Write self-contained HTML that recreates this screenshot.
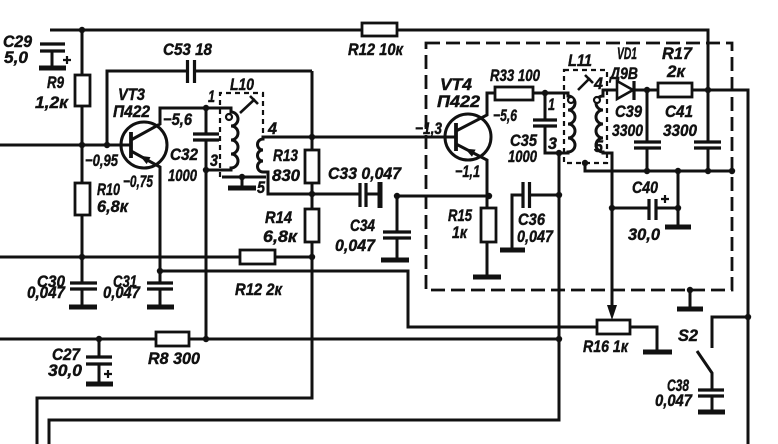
<!DOCTYPE html>
<html><head><meta charset="utf-8"><style>
html,body{margin:0;padding:0;background:#fff;}
svg{display:block;}
text{font-family:"Liberation Sans",sans-serif;font-weight:bold;font-style:italic;font-size:17px;fill:#111;stroke:#111;stroke-width:0.45;}
</style></head><body>
<svg width="778" height="444" viewBox="0 0 778 444" xmlns="http://www.w3.org/2000/svg">
<rect width="778" height="444" fill="#fff"/>
<g fill="none" stroke="#111" stroke-width="3">
<path d="M50,30 H708 V142 M708,148 V171"/>
<path d="M82,30 V257 V283 M82,289 V307"/>
<path d="M0,145 H131"/>
<path d="M107,145 V71 H187 M195,71 H312"/>
<circle cx="144" cy="145" r="23"/>
<path d="M131,140 L160,124 V108 H231 V112 A7 7 0 0 1 231,126 A7 7 0 0 1 231,140 A7 7 0 0 1 231,154 A7 7 0 0 1 231,168 V170 H206"/>
<path d="M131,151 L160,167 V271 H408 V327 H597 M630,327 H657 V352"/>
<path d="M206,108 V134 M206,140 V339"/>
<path d="M456,137 H263 V139 A5.5 5.5 0 0 0 263,150 A5.5 5.5 0 0 0 263,161 A5.5 5.5 0 0 0 263,172 H268 V194 H360"/>
<path d="M222,177 H266 M242,177 V188"/>
<path d="M312,71 V398 H37 V444"/>
<path d="M366,194 H380"/>
<path d="M0,257 H312"/>
<path d="M160,271 V283 M160,289 V307"/>
<path d="M0,339 H559 M99,339 V357 M99,364 V384"/>
<path d="M49,444 V420 H559 V153"/>
<circle cx="468" cy="137" r="23"/>
<path d="M456,131 L487,115 V93 H568 V96 A7 7 0 0 1 568,110 A7 7 0 0 1 568,124 A7 7 0 0 1 568,138 A7 7 0 0 1 568,152 V153 H545 V126 M545,120 V93"/>
<path d="M456,144 L487,160 V277"/>
<path d="M397,196 H489 M397,196 V232 M397,238 V260"/>
<path d="M559,195 H530 M523,195 H512 V250"/>
<path d="M617,90 H603 V96 A7 7 0 0 0 603,110 A7 7 0 0 0 603,124 A7 7 0 0 0 603,138 A7 7 0 0 0 603,152 V153 H612 V306"/>
<path d="M617,81 L633,90 L617,99 Z" stroke-width="2.6" fill="#fff"/>
<path d="M634,90 H748 V444"/>
<path d="M647,90 V142 M647,148 V171"/>
<path d="M585,163 V171 H732"/>
<path d="M612,208 H649 M656,208 H678 M678,171 V227"/>
<path d="M748,317 H712 V348 M697,351 L712,373 V390 M712,396 V412"/>
<path d="M690,290 V309"/>
<path d="M52,51 V67"/>
</g>
<g fill="#fff" stroke="#111" stroke-width="2.8">
<rect x="362" y="23" width="35" height="13"/>
<rect x="75" y="75" width="15" height="31"/>
<rect x="75" y="183" width="15" height="32"/>
<rect x="305" y="150" width="14" height="33"/>
<rect x="305" y="209" width="14" height="33"/>
<rect x="240" y="250" width="35" height="14"/>
<rect x="156" y="332" width="33" height="14"/>
<rect x="495" y="87" width="38" height="13"/>
<rect x="481" y="208" width="15" height="34"/>
<rect x="658" y="83" width="34" height="14"/>
<rect x="597" y="320" width="33" height="14"/>
</g>
<g stroke="#111" stroke-width="3.2" fill="none">
<path d="M40,44 H65 M40,51 H65"/>
<path d="M187.5,60 V83 M194.5,60 V83"/>
<path d="M193,134 H219 M193,140 H219"/>
<path d="M360,183 V207 M366,183 V207"/>
<path d="M70,283 H97 M70,289 H97"/>
<path d="M147,283 H173 M147,289 H173"/>
<path d="M86,357 H112 M86,364 H112"/>
<path d="M383,232 H411 M383,238 H411"/>
<path d="M533,120 H557 M533,126 H557"/>
<path d="M523,182 V208 M529.5,182 V208"/>
<path d="M634,142 H661 M634,148 H661"/>
<path d="M694,142 H721 M694,148 H721"/>
<path d="M649,199 V220 M656,199 V220"/>
<path d="M698,390 H724 M698,396 H724"/>
<path d="M634,81 V100"/>
<path d="M131,132 V158 M456,123 V151" stroke-width="3.8"/>
</g>
<g stroke="#111" stroke-width="5" fill="none">
<path d="M39,68 H66"/>
<path d="M228,188 H256"/>
<path d="M380,182 V208"/>
<path d="M69,307 H97"/>
<path d="M147,307 H174"/>
<path d="M86,384 H113"/>
<path d="M381,260 H409"/>
<path d="M473,277 H501"/>
<path d="M500,250 H525"/>
<path d="M643,352 H672"/>
<path d="M665,227 H691"/>
<path d="M677,309 H703"/>
<path d="M698,412 H725"/>
</g>
<g stroke="#111" stroke-width="2.2">
<path d="M63,60 H71 M67,56 V64"/>
<path d="M104,374 H112 M108,370 V378"/>
<path d="M661,199 H669 M665,195 V203"/>
</g>
<g fill="none" stroke="#111">
<rect x="426" y="43" width="306" height="247" stroke-width="2.8" stroke-dasharray="14 6"/>
<rect x="564" y="70" width="43" height="93" stroke-width="2.2" stroke-dasharray="5 4"/>
<path d="M220,177 V93 H263 V135" stroke-width="2.2" stroke-dasharray="5 4"/>
</g>
<g stroke="#111" stroke-width="2.6" fill="none">
<path d="M240,113 L255,99 M250,96 L258,104"/>
<path d="M578,90 L590,78 M585,75 L593,83"/>
</g>
<g fill="#111">
<polygon points="139.8,155.8 146.7,164.1 150.5,157.1"/>
<polygon points="465,148.6 472,156.8 475.6,149.6"/>
<polygon points="607,305 617,305 612,320"/>
</g>
<g fill="#fff" stroke="#111" stroke-width="2.2">
<circle cx="229" cy="117" r="3"/>
<circle cx="571" cy="100" r="3"/>
<circle cx="597" cy="100" r="3"/>
</g>
<g fill="#111">
<circle cx="82" cy="30" r="3.2"/><circle cx="82" cy="145" r="3.2"/><circle cx="107" cy="145" r="3.2"/>
<circle cx="82" cy="257" r="3.2"/><circle cx="206" cy="108" r="3.2"/><circle cx="206" cy="170" r="3.2"/>
<circle cx="312" cy="137" r="3.2"/><circle cx="312" cy="194" r="3.2"/><circle cx="312" cy="257" r="3.2"/>
<circle cx="160" cy="271" r="3.2"/><circle cx="99" cy="339" r="3.2"/><circle cx="206" cy="339" r="3.2"/>
<circle cx="397" cy="196" r="3.2"/><circle cx="489" cy="196" r="3.2"/><circle cx="545" cy="93" r="3.2"/>
<circle cx="559" cy="153" r="3.2"/><circle cx="559" cy="195" r="3.2"/><circle cx="559" cy="339" r="3.2"/>
<circle cx="647" cy="90" r="3.2"/><circle cx="708" cy="90" r="3.2"/><circle cx="647" cy="171" r="3.2"/>
<circle cx="678" cy="171" r="3.2"/><circle cx="708" cy="171" r="3.2"/><circle cx="732" cy="171" r="3.2"/>
<circle cx="612" cy="208" r="3.2"/><circle cx="678" cy="208" r="3.2"/><circle cx="748" cy="317" r="3.2"/>
<circle cx="690" cy="290" r="3.2"/><circle cx="242" cy="177" r="3.2"/><circle cx="585" cy="163" r="3.2"/>
</g>
<g>
<text x="3" y="47" textLength="29" lengthAdjust="spacingAndGlyphs">C29</text>
<text x="4" y="63" textLength="24" lengthAdjust="spacingAndGlyphs">5,0</text>
<text x="47" y="88" textLength="17" lengthAdjust="spacingAndGlyphs">R9</text>
<text x="35" y="108" textLength="33" lengthAdjust="spacingAndGlyphs">1,2к</text>
<text x="118" y="100" textLength="27" lengthAdjust="spacingAndGlyphs">VT3</text>
<text x="113" y="117" textLength="37" lengthAdjust="spacingAndGlyphs">П422</text>
<text x="163" y="55" textLength="49" lengthAdjust="spacingAndGlyphs">C53 18</text>
<text x="348" y="55" textLength="55" lengthAdjust="spacingAndGlyphs">R12 10к</text>
<text x="163" y="125" textLength="29" lengthAdjust="spacingAndGlyphs">−5,6</text>
<text x="85" y="166" textLength="33" lengthAdjust="spacingAndGlyphs">−0,95</text>
<text x="123" y="187" textLength="30" lengthAdjust="spacingAndGlyphs">−0,75</text>
<text x="170" y="160" textLength="28" lengthAdjust="spacingAndGlyphs">C32</text>
<text x="168" y="181" textLength="29" lengthAdjust="spacingAndGlyphs">1000</text>
<text x="230" y="90" textLength="24" lengthAdjust="spacingAndGlyphs">L10</text>
<text x="208" y="102" textLength="7" lengthAdjust="spacingAndGlyphs">1</text>
<text x="210" y="166" textLength="8" lengthAdjust="spacingAndGlyphs">3</text>
<text x="268" y="134" textLength="9" lengthAdjust="spacingAndGlyphs">4</text>
<text x="257" y="193" textLength="8" lengthAdjust="spacingAndGlyphs">5</text>
<text x="97" y="195" textLength="23" lengthAdjust="spacingAndGlyphs">R10</text>
<text x="97" y="212" textLength="31" lengthAdjust="spacingAndGlyphs">6,8к</text>
<text x="273" y="161" textLength="25" lengthAdjust="spacingAndGlyphs">R13</text>
<text x="272" y="181" textLength="28" lengthAdjust="spacingAndGlyphs">830</text>
<text x="328" y="179" textLength="73" lengthAdjust="spacingAndGlyphs">C33 0,047</text>
<text x="265" y="223" textLength="27" lengthAdjust="spacingAndGlyphs">R14</text>
<text x="263" y="242" textLength="34" lengthAdjust="spacingAndGlyphs">6,8к</text>
<text x="350" y="231" textLength="25" lengthAdjust="spacingAndGlyphs">C34</text>
<text x="335" y="251" textLength="40" lengthAdjust="spacingAndGlyphs">0,047</text>
<text x="37" y="287" textLength="28" lengthAdjust="spacingAndGlyphs">C30</text>
<text x="27" y="298" textLength="38" lengthAdjust="spacingAndGlyphs">0,047</text>
<text x="113" y="287" textLength="24" lengthAdjust="spacingAndGlyphs">C31</text>
<text x="103" y="298" textLength="37" lengthAdjust="spacingAndGlyphs">0,047</text>
<text x="235" y="295" textLength="47" lengthAdjust="spacingAndGlyphs">R12 2к</text>
<text x="52" y="360" textLength="28" lengthAdjust="spacingAndGlyphs">C27</text>
<text x="48" y="376" textLength="34" lengthAdjust="spacingAndGlyphs">30,0</text>
<text x="148" y="364" textLength="52" lengthAdjust="spacingAndGlyphs">R8 300</text>
<text x="440" y="90" textLength="32" lengthAdjust="spacingAndGlyphs">VT4</text>
<text x="437" y="107" textLength="43" lengthAdjust="spacingAndGlyphs">П422</text>
<text x="415" y="134" textLength="27" lengthAdjust="spacingAndGlyphs">−1,3</text>
<text x="490" y="81" textLength="50" lengthAdjust="spacingAndGlyphs">R33 100</text>
<text x="493" y="121" textLength="24" lengthAdjust="spacingAndGlyphs">−5,6</text>
<text x="510" y="146" textLength="27" lengthAdjust="spacingAndGlyphs">C35</text>
<text x="508" y="162" textLength="29" lengthAdjust="spacingAndGlyphs">1000</text>
<text x="455" y="177" textLength="25" lengthAdjust="spacingAndGlyphs">−1,1</text>
<text x="448" y="221" textLength="24" lengthAdjust="spacingAndGlyphs">R15</text>
<text x="452" y="238" textLength="15" lengthAdjust="spacingAndGlyphs">1к</text>
<text x="518" y="225" textLength="27" lengthAdjust="spacingAndGlyphs">C36</text>
<text x="517" y="242" textLength="36" lengthAdjust="spacingAndGlyphs">0,047</text>
<text x="568" y="66" textLength="24" lengthAdjust="spacingAndGlyphs">L11</text>
<text x="548" y="110" textLength="7" lengthAdjust="spacingAndGlyphs">1</text>
<text x="548" y="149" textLength="9" lengthAdjust="spacingAndGlyphs">3</text>
<text x="594" y="89" textLength="9" lengthAdjust="spacingAndGlyphs">4</text>
<text x="594" y="152" textLength="9" lengthAdjust="spacingAndGlyphs">5</text>
<text x="617" y="59" textLength="20" lengthAdjust="spacingAndGlyphs">VD1</text>
<text x="610" y="79" textLength="28" lengthAdjust="spacingAndGlyphs">Д9В</text>
<text x="662" y="59" textLength="30" lengthAdjust="spacingAndGlyphs">R17</text>
<text x="667" y="77" textLength="18" lengthAdjust="spacingAndGlyphs">2к</text>
<text x="615" y="117" textLength="27" lengthAdjust="spacingAndGlyphs">C39</text>
<text x="612" y="136" textLength="31" lengthAdjust="spacingAndGlyphs">3300</text>
<text x="665" y="117" textLength="28" lengthAdjust="spacingAndGlyphs">C41</text>
<text x="663" y="136" textLength="34" lengthAdjust="spacingAndGlyphs">3300</text>
<text x="632" y="193" textLength="26" lengthAdjust="spacingAndGlyphs">C40</text>
<text x="628" y="240" textLength="32" lengthAdjust="spacingAndGlyphs">30,0</text>
<text x="583" y="352" textLength="45" lengthAdjust="spacingAndGlyphs">R16 1к</text>
<text x="678" y="341" textLength="20" lengthAdjust="spacingAndGlyphs">S2</text>
<text x="667" y="391" textLength="22" lengthAdjust="spacingAndGlyphs">C38</text>
<text x="655" y="406" textLength="37" lengthAdjust="spacingAndGlyphs">0,047</text>
</g>
</svg>
</body></html>
